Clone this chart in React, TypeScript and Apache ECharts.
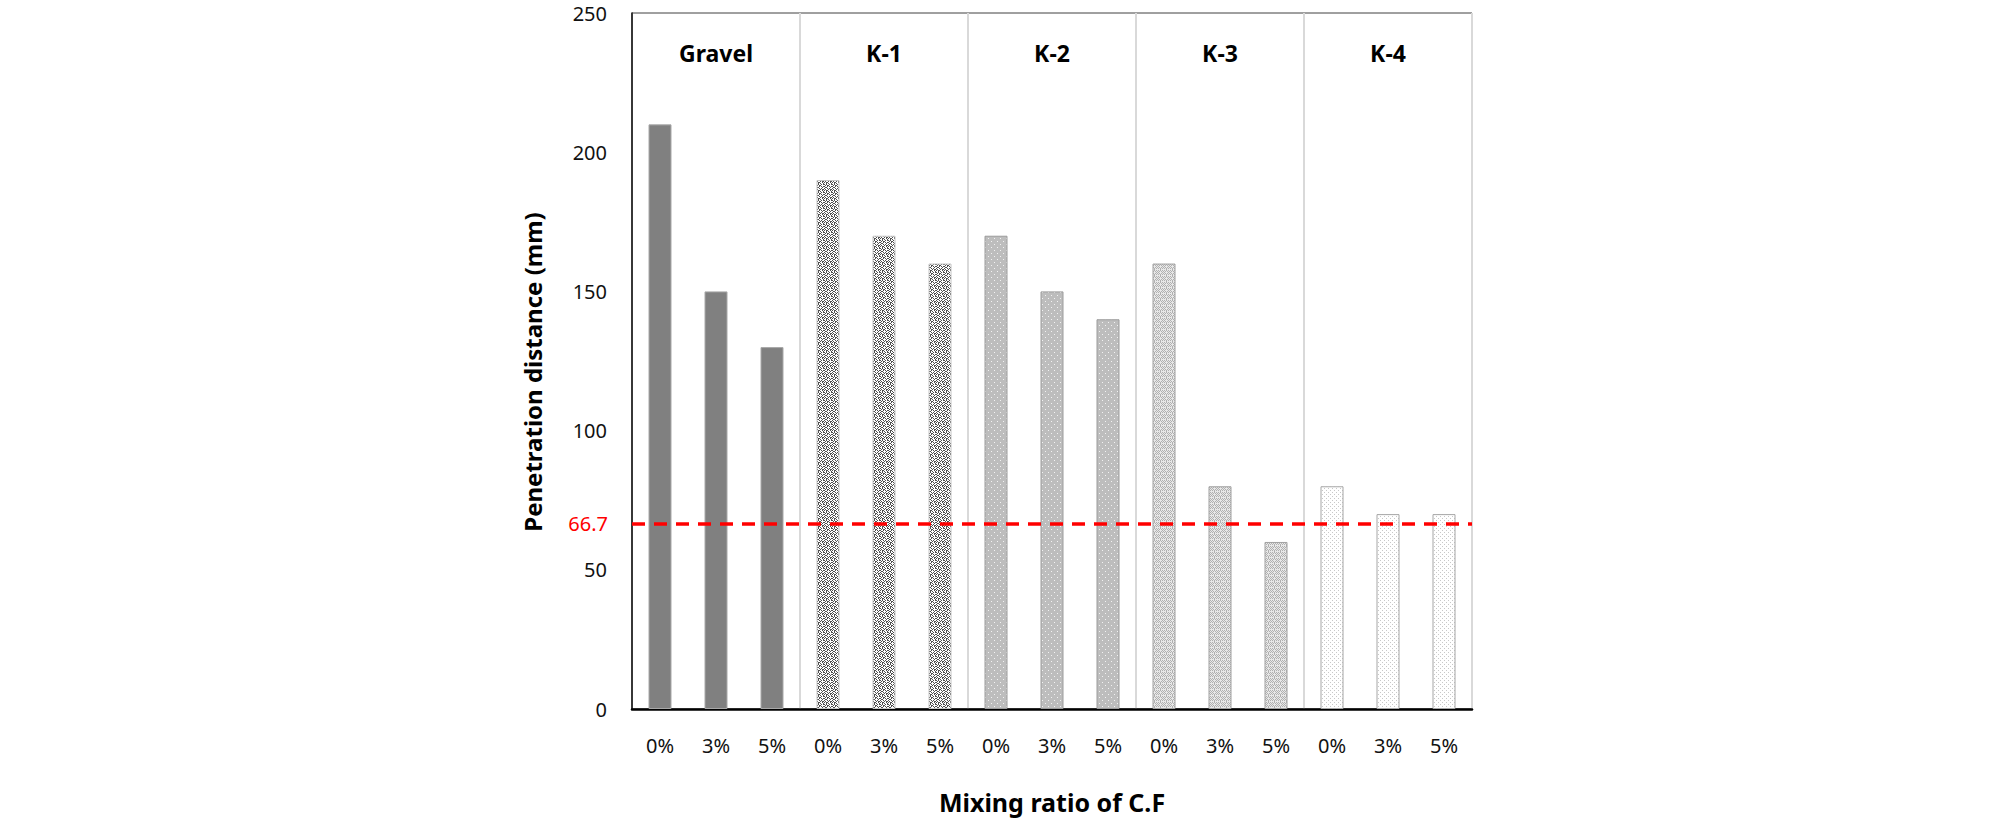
import React, { useEffect, useRef } from 'react';
import * as echarts from 'echarts';

const groups = ['Gravel', 'K-1', 'K-2', 'K-3', 'K-4'];
const ratios = ['0%', '3%', '5%'];
const gravel = [210, 150, 130];
const k1 = [190, 170, 160];
const k2 = [170, 150, 140];
const k3 = [160, 80, 60];
const k4 = [80, 70, 70];
const threshold = 66.7;
const yMin = 0;
const yMax = 250;
const yStep = 50;

const FONT = 'Noto Sans';

function makeTile(rows: string[], colors: Record<string, string>) {
  const h = rows.length;
  const w = rows[0].length;
  const c = document.createElement('canvas');
  c.width = w;
  c.height = h;
  const ctx = c.getContext('2d') as CanvasRenderingContext2D;
  for (let y = 0; y < h; y++) {
    for (let x = 0; x < w; x++) {
      ctx.fillStyle = colors[rows[y][x]];
      ctx.fillRect(x, y, 1, 1);
    }
  }
  return { image: c, repeat: 'repeat', imageWidth: w, imageHeight: h } as any;
}

export default function App() {
  const ref = useRef<HTMLDivElement>(null);
  useEffect(() => {
    if (!ref.current) return;
    const chart = echarts.init(ref.current, undefined, { renderer: 'svg' });

    const k1Tile = makeTile(
      [
        '#.#..#.#',
        '.#.##...',
        '#..#.#.#',
        '.##...#.',
        '#..#.#..',
        '.#..#.##',
        '#.##..#.',
        '..#.#..#',
      ],
      { '#': '#4f4f4f', '.': '#ffffff' }
    );
    const k2Tile = makeTile(
      ['gggggg', 'gwgggg', 'gggggg', 'gggggg', 'ggggwg', 'gggggg'],
      { g: '#bdbdbd', w: '#f2f2f2' }
    );
    const k3Tile = makeTile(
      ['mlmlml', 'lmlmlm', 'mlllml', 'lmlmlm', 'mlmlml', 'llmlll'],
      { m: '#b0b0b0', l: '#e8e8e8' }
    );
    const k4Tile = makeTile(['dwww', 'wwww', 'wwdw', 'wwww'], { d: '#c8c8c8', w: '#ffffff' });

    const styles = [
      { color: '#808080', borderColor: '#a8a8a8', borderWidth: 1 },
      { color: k1Tile, borderColor: '#c4c4c4', borderWidth: 1 },
      { color: k2Tile, borderColor: '#9c9c9c', borderWidth: 1 },
      { color: k3Tile, borderColor: '#a0a0a0', borderWidth: 1 },
      { color: k4Tile, borderColor: '#a6a6a6', borderWidth: 1 },
    ];
    const groupValues = [gravel, k1, k2, k3, k4];
    const categories: string[] = [];
    const data: any[] = [];
    groups.forEach((g, gi) => {
      ratios.forEach((r, ri) => {
        categories.push(g + '|' + r);
        data.push({ value: groupValues[gi][ri], itemStyle: styles[gi] });
      });
    });

    chart.setOption({
      animation: false,
      backgroundColor: '#ffffff',
      grid: {
        left: 632,
        top: 13,
        width: 840,
        height: 709,
        show: true,
        borderColor: '#404040',
        borderWidth: 1,
        backgroundColor: 'transparent',
      },
      xAxis: [
        {
          type: 'category',
          data: categories,
          position: 'bottom',
          axisLine: { show: true, lineStyle: { color: '#000', width: 2.5 } },
          axisTick: { show: false },
          axisLabel: {
            formatter: (v: string) => v.split('|')[1],
            fontFamily: FONT,
            fontSize: 20,
            color: '#111',
            margin: 26,
            interval: 0,
          },
          splitLine: { show: false },
          name: 'Mixing ratio of C.F',
          nameLocation: 'middle',
          nameGap: 80,
          nameTextStyle: { fontFamily: FONT, fontSize: 25, fontWeight: 'bold', color: '#000' },
        },
        {
          type: 'category',
          data: groups,
          position: 'top',
          axisLine: { show: false },
          axisTick: { show: false },
          axisLabel: {
            inside: true,
            margin: 40,
            verticalAlign: 'middle',
            fontFamily: FONT,
            fontSize: 23,
            fontWeight: 'bold',
            color: '#000',
            interval: 0,
          },
          splitLine: { show: true, interval: 0, lineStyle: { color: '#d9d9d9', width: 2 } },
        },
      ],
      yAxis: {
        type: 'value',
        min: yMin,
        max: yMax,
        interval: yStep,
        axisLine: { show: true, lineStyle: { color: '#000', width: 1.5 } },
        axisTick: { show: false },
        splitLine: { show: false },
        axisLabel: { fontFamily: FONT, fontSize: 20, color: '#111', margin: 25 },
        name: 'Penetration distance (mm)',
        nameLocation: 'middle',
        nameGap: 88,
        nameRotate: 90,
        nameTextStyle: {
          fontFamily: FONT,
          fontSize: 24,
          fontWeight: 'bold',
          color: '#000',
          padding: [0, 22, 0, 0],
        },
      },
      series: [
        {
          type: 'bar',
          xAxisIndex: 0,
          data,
          barWidth: 23,
          markLine: {
            silent: true,
            symbol: ['none', 'none'],
            data: [{ yAxis: threshold }],
            label: {
              show: true,
              position: 'start',
              distance: 24,
              formatter: String(threshold),
              color: '#ff0000',
              fontFamily: FONT,
              fontSize: 20,
            },
            lineStyle: { color: '#ff0000', width: 3.5, type: [13, 9] },
          },
        },
      ],
    });
    return () => chart.dispose();
  }, []);
  return (
    <div
      ref={ref}
      style={{ position: 'fixed', left: 0, top: 0, width: 2008, height: 819, background: '#fff' }}
    />
  );
}
